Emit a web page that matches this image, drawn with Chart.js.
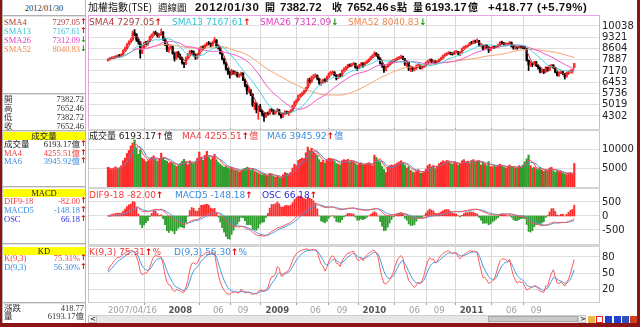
<!DOCTYPE html>
<html>
<head>
<meta charset="utf-8">
<title>加權指數 週線圖</title>
<script src="https://cdn.jsdelivr.net/npm/chart.js@4.4.1/dist/chart.umd.min.js"></script>
<style>
  body { margin: 0; background: #fff; }
  #box { position: relative; width: 640px; height: 327px; overflow: hidden; background: #fff; }
  #box div { white-space: nowrap; }
  canvas { position: absolute; }
</style>
</head>
<body>
<div id="box"></div>
<script>
// ---------- weekly TAIEX, 2007/04/16 .. 2012/01/30 (holiday weeks skipped) ----------
const firstWeek = '2007-04-16';
const lastWeek = '2012-01-30';
const closedWeeks = ['2008-02-04', '2009-01-26', '2010-02-15', '2011-01-31', '2012-01-23'];

const open = [
  7850, 7900, 7990, 8000, 8060, 8090, 8150, 8140, 8200, 8490, 8620, 8880, 9040, 9150, 9600, 9510, 9150, 9020, 8300, 8620, 8980, 8920, 9060, 9360, 9480, 9620, 9540, 9420, 9470, 9650, 9200, 8850, 8520, 8600, 8700, 8290, 7950, 8350,
  8100, 7990, 7700, 7610, 8000, 8230, 8420, 8400, 8200, 8050, 8200, 8570, 8700, 8640, 8820, 8930, 8920, 8800, 9000, 9150, 8690, 8640, 8300, 7950, 7700, 7300, 7100, 6950, 7150, 7020, 7060, 6830, 6900, 7040, 6600, 6250, 5900, 5950, 5700, 5000, 5100, 4700, 4900, 4650, 4450, 4250, 4480, 4430, 4700, 4680, 4440,
  4590, 4700, 4400, 4250, 4450, 4560, 4500, 4560, 4650, 4950, 5200, 5300, 5600, 5650, 5750, 5900, 6100, 6600, 6500, 6800, 6850, 6890, 6700, 6400, 6400, 6600, 6500, 6800, 7000, 7080, 7100, 6900, 6700, 6900, 6830, 7200, 7300, 7400, 7550, 7500, 7600, 7650, 7400, 7350, 7550, 7650, 7530, 7700, 7800, 7900, 8050,
  8188, 8300, 8200, 8000, 7640, 7500, 7200, 7440, 7580, 7700, 7800, 7870, 7900, 8000, 8000, 8080, 7950, 7600, 7700, 7300, 7380, 7300, 7300, 7500, 7550, 7330, 7450, 7500, 7700, 7800, 7900, 7740, 7800, 7650, 7800, 7900, 8000, 8150, 8230, 8300, 8350, 8260, 8250, 8400, 8400, 8300, 8370, 8600, 8700, 8750, 8800,
  8972, 8950, 9060, 9020, 9100, 8800, 8800, 8600, 8800, 8700, 8500, 8650, 8700, 8680, 8750, 8820, 9000, 8950, 8900, 8900, 8900, 9000, 8750, 8650, 8660, 8650, 8750, 8700, 8698.82, 8600, 7850, 7560, 7640, 7600, 7750, 7520, 7400, 7150, 7250, 7100, 7400, 7200, 7515.41, 7560, 7400, 7100, 6900, 7050, 7100, 7000, 6800,
  7080.73, 7120.18, 7181.87, 7382.72
];
const high = [
  7960, 8040, 8080, 8110, 8150, 8200, 8230, 8280, 8520, 8700, 8920, 9100, 9250, 9720, 9810, 9560, 9230, 9050, 8700, 9020, 9060, 9110, 9400, 9530, 9700, 9720, 9600, 9560, 9860, 9680, 9250, 8900, 8700, 8850, 8760, 8330, 8400, 8420,
  8250, 8060, 7720, 8080, 8300, 8480, 8500, 8450, 8260, 8280, 8650, 8760, 8780, 8880, 9010, 9050, 8960, 9080, 9310, 9170, 8800, 8680, 8320, 7980, 7720, 7360, 7180, 7280, 7200, 7180, 7100, 6980, 7100, 7060, 6650, 6300, 6150, 6000, 5720, 5200, 5150, 4950, 5050, 4700, 4500, 4530, 4560, 4760, 4770, 4700, 4620,
  4790, 4720, 4430, 4500, 4640, 4620, 4600, 4700, 4990, 5240, 5370, 5640, 5720, 5820, 5960, 6150, 6700, 6720, 6850, 6960, 7000, 6920, 6720, 6500, 6650, 6680, 6850, 7050, 7150, 7180, 7130, 6950, 6960, 7000, 7250, 7380, 7460, 7600, 7620, 7660, 7720, 7680, 7450, 7600, 7720, 7700, 7750, 7840, 7950, 8100, 8200,
  8400, 8340, 8240, 8020, 7700, 7520, 7480, 7620, 7760, 7850, 7920, 7960, 8050, 8100, 8190, 8120, 7980, 7800, 7720, 7450, 7420, 7380, 7560, 7620, 7570, 7500, 7560, 7740, 7850, 7950, 7940, 7850, 7830, 7840, 7950, 8050, 8180, 8280, 8340, 8400, 8380, 8330, 8450, 8480, 8420, 8400, 8640, 8760, 8800, 8850, 8990,
  9060, 9140, 9140, 9220, 9120, 8900, 8820, 8850, 8850, 8720, 8700, 8760, 8780, 8800, 8880, 9050, 9070, 8990, 8960, 8950, 9050, 9020, 8780, 8720, 8720, 8800, 8780, 8780, 8730, 8620, 7880, 7780, 7700, 7800, 7780, 7560, 7420, 7300, 7280, 7450, 7420, 7550, 7580, 7560, 7420, 7120, 7100, 7200, 7150, 7020, 7100,
  7160, 7250, 7290, 7652.46
];
const low = [
  7800, 7860, 7930, 7950, 8000, 8040, 8060, 8080, 8180, 8440, 8580, 8850, 9000, 9120, 9420, 9050, 8880, 7990, 8280, 8600, 8850, 8820, 9020, 9310, 9450, 9480, 9320, 9280, 9440, 9120, 8780, 8400, 8350, 8560, 8240, 7800, 7920, 8050,
  7900, 7600, 7380, 7580, 7950, 8180, 8300, 8120, 7900, 7950, 8180, 8500, 8560, 8600, 8780, 8850, 8700, 8760, 8980, 8650, 8560, 8250, 7880, 7600, 7230, 6950, 6710, 6900, 6960, 6900, 6780, 6760, 6850, 6550, 6150, 5700, 5800, 5600, 4900, 4700, 4500, 4090, 4580, 4300, 3960, 4200, 4350, 4400, 4580, 4400, 4420,
  4560, 4360, 4160, 4200, 4420, 4450, 4330, 4500, 4620, 4920, 5150, 5280, 5540, 5600, 5700, 5860, 6080, 6400, 6450, 6720, 6780, 6600, 6320, 6250, 6380, 6450, 6480, 6780, 6950, 7000, 6850, 6600, 6680, 6780, 6800, 7150, 7250, 7380, 7450, 7450, 7560, 7350, 7200, 7330, 7500, 7400, 7500, 7660, 7760, 7880, 8020,
  8150, 8100, 7920, 7600, 7400, 7080, 7180, 7400, 7550, 7650, 7750, 7820, 7860, 7920, 7960, 7900, 7520, 7450, 7200, 7130, 7150, 7180, 7280, 7460, 7300, 7280, 7380, 7480, 7680, 7780, 7700, 7700, 7600, 7620, 7760, 7870, 7980, 8120, 8180, 8250, 8200, 8180, 8220, 8330, 8200, 8150, 8350, 8580, 8660, 8700, 8780,
  8900, 8920, 8950, 8980, 8760, 8700, 8500, 8560, 8620, 8340, 8450, 8600, 8620, 8650, 8700, 8800, 8900, 8820, 8800, 8780, 8870, 8700, 8560, 8550, 8560, 8620, 8620, 8600, 8540, 7800, 7200, 7450, 7450, 7550, 7450, 7280, 7050, 7050, 7000, 7080, 7150, 7180, 7480, 7330, 7050, 6850, 6820, 7000, 6940, 6650, 6780,
  6950, 7090, 7020, 7382.72
];
const close = [
  7900, 7990, 8000, 8060, 8090, 8150, 8140, 8200, 8490, 8620, 8880, 9040, 9150, 9600, 9510, 9150, 9020, 8300, 8620, 8980, 8920, 9060, 9360, 9480, 9620, 9540, 9420, 9470, 9650, 9200, 8850, 8520, 8600, 8700, 8290, 7950, 8350, 8100,
  7990, 7700, 7610, 8000, 8230, 8420, 8400, 8200, 8050, 8200, 8570, 8700, 8640, 8820, 8930, 8920, 8800, 9000, 9150, 8690, 8640, 8300, 7950, 7700, 7300, 7100, 6950, 7150, 7020, 7060, 6830, 6900, 7040, 6600, 6250, 5900, 5950, 5700, 5000, 5100, 4700, 4900, 4650, 4450, 4250, 4480, 4430, 4700, 4680, 4440, 4590,
  4700, 4400, 4250, 4450, 4560, 4500, 4560, 4650, 4950, 5200, 5300, 5600, 5650, 5750, 5900, 6100, 6600, 6500, 6800, 6850, 6890, 6700, 6400, 6400, 6600, 6500, 6800, 7000, 7080, 7100, 6900, 6700, 6900, 6830, 7200, 7300, 7400, 7550, 7500, 7600, 7650, 7400, 7350, 7550, 7650, 7530, 7700, 7800, 7900, 8050, 8188,
  8300, 8200, 8000, 7640, 7500, 7200, 7440, 7580, 7700, 7800, 7870, 7900, 8000, 8000, 8080, 7950, 7600, 7700, 7300, 7380, 7300, 7300, 7500, 7550, 7330, 7450, 7500, 7700, 7800, 7900, 7740, 7800, 7650, 7800, 7900, 8000, 8150, 8230, 8300, 8350, 8260, 8250, 8400, 8400, 8300, 8370, 8600, 8700, 8750, 8800, 8972,
  8950, 9060, 9020, 9100, 8800, 8800, 8600, 8800, 8700, 8500, 8650, 8700, 8680, 8750, 8820, 9000, 8950, 8900, 8900, 8900, 9000, 8750, 8650, 8660, 8650, 8750, 8700, 8698.82, 8600, 7850, 7560, 7640, 7600, 7750, 7520, 7400, 7150, 7250, 7100, 7400, 7200, 7515.41, 7560, 7400, 7100, 6900, 7050, 7100, 7000, 6800, 7080.73,
  7120.18, 7181.87, 7233.69, 7652.46
];
// turnover, 億元
const volume = [
  5200, 4700, 4500, 5000, 5300, 4800, 5000, 5600, 6900, 7600, 8800, 9600, 10800, 11600, 12400, 10200, 8600, 9800, 7600, 7200, 6600, 6900, 7400, 7800, 8200, 7300, 6800, 7400, 8900, 7600, 7000, 6800, 6300, 6500, 6200, 5800, 5400, 5600,
  6200, 6800, 7300, 6600, 5800, 6900, 6400, 6100, 6800, 7600, 9200, 7800, 7000, 8400, 9400, 8000, 7200, 7800, 8600, 7200, 6500, 6000, 5600, 5200, 5400, 5000, 4800, 5200, 4600, 4400, 4300, 4000, 4200, 4700, 4900, 5200, 5000, 4400, 4800, 4200, 3900, 3700, 3400, 3200, 3300, 3000, 2900, 3600, 3500, 2800, 2600,
  2800, 2500, 2300, 3200, 3800, 3600, 3300, 3900, 5000, 6000, 5600, 7000, 7300, 7600, 7400, 9000, 10500, 9600, 10200, 9300, 8800, 8300, 7200, 6500, 7000, 6300, 7200, 7600, 7500, 7300, 6800, 6200, 6000, 5800, 6900, 7200, 7000, 7300, 6500, 6800, 6600, 6200, 5800, 6000, 6300, 5700, 5900, 6200, 6400, 6000, 5600,
  8400, 7800, 6900, 6600, 5400, 4600, 3800, 5200, 5600, 5800, 5700, 6000, 6300, 6600, 6900, 6200, 5800, 5000, 5400, 4400, 4000, 3800, 4200, 4600, 3700, 3600, 4000, 4700, 5600, 6000, 5200, 5600, 4800, 5500, 6100, 6500, 6900, 6600, 7000, 6800, 6300, 6000, 6700, 6400, 5800, 6000, 6900, 7200, 6500, 6700, 6300,
  7000, 7200, 6600, 6800, 6900, 5800, 6500, 6000, 5600, 6700, 5400, 5300, 5600, 5200, 5800, 6000, 5500, 5200, 5000, 5300, 5800, 5400, 5200, 5000, 4900, 5600, 5300, 5800, 6600, 7400, 8400, 5600, 5000, 5200, 4800, 4600, 5200, 4400, 4100, 4500, 4200, 5000, 5200, 4300, 3900, 4300, 4000, 3900, 3600, 3400, 3253.48,
  3700, 3800, 3328.87, 6193.17
];

const priceTicks = [4302, 5019, 5736, 6453, 7170, 7887, 8604, 9321, 10038];
const volumeTicks = [5000, 10000];
const macdTicks = [-500, 0, 500];
const kdTicks = [20, 50, 80];

// ---------- week axis ----------
const weeks = [];
for (let t = Date.parse(firstWeek + 'T00:00:00Z'); t <= Date.parse(lastWeek + 'T00:00:00Z'); t += 7 * 864e5) {
  const d = new Date(t).toISOString().slice(0, 10);
  if (!closedWeeks.includes(d)) weeks.push(d);
}
const N = weeks.length;
[open, high, low, close, volume].forEach((a, k) => {
  if (a.length !== N) throw new Error('series ' + k + ' has ' + a.length + ' values, weeks: ' + N);
});

// first week, then every January / June / September once a full year is on screen
const tickText = {}, tickKind = {};
let yearSeen = false;
weeks.forEach((d, i) => {
  const m = +d.slice(5, 7), pm = i ? +weeks[i - 1].slice(5, 7) : 0;
  if (i === 0) { tickText[i] = d.replace(/-/g, '/'); tickKind[i] = 'first'; return; }
  if (m === pm || ![1, 6, 9].includes(m) || i >= N - 8) return;
  if (m === 1) yearSeen = true;
  if (!yearSeen) return;
  tickText[i] = m === 1 ? d.slice(0, 4) : d.slice(5, 7);
  tickKind[i] = m === 1 ? 'year' : 'month';
});
const X_MIN = -0.88, X_MAX = 248.4;
const xTickValues = Object.keys(tickText).map(Number).concat([X_MAX]);

// ---------- indicators ----------
function sma(a, n) {
  return a.map((v, i) => {
    const s = Math.max(0, i - n + 1);
    let t = 0;
    for (let k = s; k <= i; k++) t += a[k];
    return t / (i - s + 1);
  });
}
function ema(a, n) {
  const k = 2 / (n + 1), out = [];
  a.forEach((v, i) => out.push(i ? out[i - 1] + k * (v - out[i - 1]) : v));
  return out;
}
function stoch(n) {
  let K = 50, D = 50;
  const ks = [], ds = [];
  close.forEach((c, i) => {
    const s = Math.max(0, i - n + 1);
    const hh = Math.max(...high.slice(s, i + 1)), ll = Math.min(...low.slice(s, i + 1));
    const rsv = hh === ll ? 50 : (c - ll) / (hh - ll) * 100;
    K = K * 2 / 3 + rsv / 3;
    D = D * 2 / 3 + K / 3;
    ks.push(K); ds.push(D);
  });
  return [ks, ds];
}
const sma4 = sma(close, 4), sma13 = sma(close, 13), sma26 = sma(close, 26), sma52 = sma(close, 52);
const vol4 = sma(volume, 4), vol6 = sma(volume, 6);
// MACD works on the demand index (H + L + 2C) / 4
const demand = close.map((c, i) => (high[i] + low[i] + 2 * c) / 4);
const ema9 = ema(demand, 9), ema18 = ema(demand, 18);
const dif = ema9.map((v, i) => v - ema18[i]);
const macd = ema(dif, 5);
const osc = dif.map((v, i) => v - macd[i]);
const [kLine, dLine] = stoch(9);

// ---------- page helpers ----------
const box = document.getElementById('box');
function el(tag, css, html) {
  const e = document.createElement(tag);
  e.style.cssText = css;
  if (html != null) e.innerHTML = html;
  box.appendChild(e);
  return e;
}
function rect(x, y, w, h, bg, extra) {
  return el('div', `position:absolute;left:${x}px;top:${y}px;width:${w}px;height:${h}px;background:${bg};${extra || ''}`);
}
function text(x, y, html, css, right) {
  const pos = right ? `right:${640 - x}px` : `left:${x}px`;
  return el('div', `position:absolute;${pos};top:${y - 6}px;height:12px;line-height:12px;${css}`, html);
}
const last = N - 1;
const f2 = v => v.toFixed(2);
const UP = '#e00000', DOWN = '#119911';
function arrow(a) {
  const rising = a[last] >= a[last - 1];
  return `<b style="color:${rising ? UP : DOWN}">${rising ? '↑' : '↓'}</b>`;
}

const SANS = '"DejaVu Sans","Noto Sans CJK TC",sans-serif';
const NUM = 'font-family:"Liberation Sans",sans-serif;font-weight:bold;font-size:11.5px;color:#111';
const CJK = 'font-family:"Noto Sans CJK TC",sans-serif;font-weight:bold;font-size:10px;color:#111';
const SERIF = 'font-family:"Liberation Serif","Noto Sans CJK TC",serif;font-size:8.5px;';

// ---------- charts ----------
Chart.defaults.font.family = 'DejaVu Sans';
const RED = '#ff2a2a', GREEN = '#2f9e2f';
const idx = close.map((_, i) => i);
const isUp = i => close[i] >= open[i];
const pts = a => idx.map(i => ({ x: i, y: a[i] }));
const kindOf = c => (c && c.tick) ? tickKind[c.tick.value] : undefined;

function xScale(labels) {
  const real = c => !!(c && c.tick && c.tick.value > 0 && c.tick.value < X_MAX);
  return {
    type: 'linear', min: X_MIN, max: X_MAX,
    afterBuildTicks: s => { s.ticks = xTickValues.map(v => ({ value: v })); },
    afterFit: s => { s.height = labels ? 14 : 0; s.paddingLeft = 0; s.paddingRight = 0; },
    border: { display: false },
    grid: {
      color: c => real(c) ? '#d9d9d9' : 'rgba(0,0,0,0)',
      drawTicks: labels, tickLength: 3,
      tickColor: c => real(c) ? '#999' : 'rgba(0,0,0,0)'
    },
    ticks: {
      display: labels, autoSkip: false, maxRotation: 0, minRotation: 0, align: 'inner', padding: 1,
      callback: v => tickText[v] || '',
      color: c => kindOf(c) === 'year' ? '#555' : '#a0a0a0',
      font: c => ({ family: 'DejaVu Sans', size: 8.5, weight: kindOf(c) === 'year' ? 'bold' : 'normal' })
    }
  };
}
function yScale(min, max, ticks) {
  return {
    type: 'linear', position: 'right', min, max,
    afterBuildTicks: s => { s.ticks = ticks.map(v => ({ value: v })); },
    afterFit: s => { s.width = 41; s.paddingTop = 0; s.paddingBottom = 0; },
    border: { display: false },
    grid: { color: '#dedede', drawTicks: false },
    ticks: { autoSkip: false, padding: 3, color: '#222', font: { size: 10 }, callback: v => String(v) }
  };
}
function panel(top, bottom, scales, datasets, withAxis) {
  const padTop = 3, padBottom = withAxis ? 0 : 3, axisH = withAxis ? 14 : 0;
  const cv = el('canvas', `left:86px;top:${top - padTop}px`);
  cv.width = 554;
  cv.height = bottom - top + padTop + padBottom + axisH;
  return new Chart(cv, {
    type: 'bar',
    data: { datasets },
    options: {
      animation: false, responsive: false, events: [],
      layout: { padding: { left: 2, right: 0, top: padTop, bottom: padBottom } },
      plugins: { legend: { display: false }, tooltip: { enabled: false } },
      scales: Object.assign({ x: xScale(withAxis) }, scales)
    }
  });
}
const line = (a, color, axis) => ({
  type: 'line', data: pts(a), borderColor: color, borderWidth: 1, pointRadius: 0,
  tension: 0, order: 0, yAxisID: axis || 'y'
});
const candleColors = idx.map(i => isUp(i) ? RED : '#000');

// price + moving averages
panel(16, 128, { y: yScale(3537.2, 10675.3, priceTicks) }, [
  line(sma4, '#b83030'), line(sma13, '#3fd3de'), line(sma26, '#ee55cc'), line(sma52, '#f5a06e'),
  { data: idx.map(i => ({ x: i, y: [open[i], close[i]] })), backgroundColor: candleColors, barThickness: 1.6, grouped: false, order: 1 },
  { data: idx.map(i => ({ x: i, y: [low[i], high[i]] })), backgroundColor: candleColors, barThickness: 1, grouped: false, order: 2 }
]);

// turnover
panel(131, 187, { y: yScale(0, 14737, volumeTicks) }, [
  line(vol4, '#ff4545'), line(vol6, '#4a90d8'),
  { data: pts(volume), backgroundColor: idx.map(i => isUp(i) ? RED : GREEN), barThickness: 1.5, grouped: false, order: 1 }
]);

// MACD, histogram on its own hidden scale
const oscMax = Math.max(...osc.map(Math.abs));
panel(189, 244, {
  y: yScale(-1000, 964, macdTicks),
  yOsc: { type: 'linear', display: false, min: -oscMax * 28 / 23, max: oscMax * 27 / 23 }
}, [
  line(dif, '#ff5555'), line(macd, '#4a9ae0'),
  { data: pts(osc), yAxisID: 'yOsc', backgroundColor: osc.map(v => v >= 0 ? RED : GREEN), barThickness: 1.2, grouped: false, order: 1 }
]);

// KD
panel(247, 302, { y: yScale(-4.375, 98.75, kdTicks) }, [
  line(kLine, '#ff5a5a'), line(dLine, '#4a9ae0')
], true);

// ---------- frames ----------
rect(88, 15, 510, 113, 'transparent', 'border:1px solid #e6a6e6');
rect(88, 129, 512, 2, '#d4d4d4');
rect(88, 187, 512, 2, '#d4d4d4');
rect(88, 244, 512, 3, '#d4d4d4');
rect(88, 302, 512, 1, '#cfcfcf');
[[131, 56], [189, 55], [247, 55]].forEach(([y, h]) => {
  rect(88, y, 1, h, '#c8c8c8');
  rect(599, y, 1, h, '#c8c8c8');
});

// ---------- title row ----------
const chg = close[last] - close[last - 1];
const sign = chg >= 0 ? '+' : '';
text(88, 7, '加權指數(TSE)', 'font-family:"Noto Sans CJK TC",sans-serif;font-size:10px;color:#111');
text(158, 7, '週線圖', 'font-family:"Noto Sans CJK TC",sans-serif;font-size:9.5px;color:#111');
text(195, 7, weeks[last].replace(/-/g, '/'), NUM + ';letter-spacing:0.7px');
text(265, 7, '開', CJK);
text(280, 7, f2(open[last]), NUM);
text(332, 7, '收', CJK);
text(347, 7, f2(close[last]), NUM);
text(390, 7, 's', NUM);
text(397, 7, '點', CJK);
text(413, 7, '量', CJK);
text(425, 7, f2(volume[last]), NUM);
text(468, 7, '億', CJK);
text(488, 7, sign + f2(chg), NUM + ';letter-spacing:0.5px');
text(537, 7, `(${sign}${(chg / close[last - 1] * 100).toFixed(2)}%)`, NUM + ';letter-spacing:0.4px');

// ---------- panel legends ----------
const LEG = `font-family:${SANS};font-size:9px;`;
text(89, 21.5, `SMA4 ${f2(sma4[last])}${arrow(sma4)}`, LEG + 'color:#b03c3c');
text(172, 21.5, `SMA13 ${f2(sma13[last])}${arrow(sma13)}`, LEG + 'color:#34c4d4');
text(260, 21.5, `SMA26 ${f2(sma26[last])}${arrow(sma26)}`, LEG + 'color:#e040c0');
text(348, 21.5, `SMA52 ${f2(sma52[last])}${arrow(sma52)}`, LEG + 'color:#f08850');
text(89, 136, `成交量 ${f2(volume[last])}${arrow(volume)}億`, LEG + 'color:#222');
text(182, 136, `MA4 ${f2(vol4[last])}${arrow(vol4)}億`, LEG + 'color:#f03c3c');
text(267, 136, `MA6 ${f2(vol6[last])}${arrow(vol6)}億`, LEG + 'color:#3c8cdc');
text(89, 194.5, `DIF9-18 ${f2(dif[last])}${arrow(dif)}`, LEG + 'color:#f03c3c');
text(175, 194.5, `MACD5 ${f2(macd[last])}${arrow(macd)}`, LEG + 'color:#3c8cdc');
text(262, 194.5, `OSC ${f2(osc[last])}${arrow(osc)}`, LEG + 'color:#2a2ae0');
text(89, 251.5, `K(9,3) ${f2(kLine[last])}${arrow(kLine)}%`, LEG + 'color:#f03c3c');
text(174, 251.5, `D(9,3) ${f2(dLine[last])}${arrow(dLine)}%`, LEG + 'color:#3c8cdc');

// ---------- side panel ----------
rect(2, 0, 84, 323, '#fff', 'border-left:1px solid #b8b8b8;border-right:1px solid #b8b8b8;box-sizing:border-box');
[15, 93, 130, 186, 243, 302].forEach(y => { rect(3, y, 82, 1, '#b0b0b0'); rect(3, y + 1, 82, 1, '#e4e4e4'); });
text(44, 7.5, weeks[last].replace(/-/g, '/'), SERIF + 'color:#333;width:80px;text-align:center;transform:translateX(-50%)');
const sideRow = (y, label, value, color, arr, labelColor) => {
  text(4, y, label, SERIF + `color:${labelColor || color}`);
  text(arr ? 80 : 84, y, value, SERIF + `color:${color}`, true);
  if (arr) text(80, y, arrow(arr), 'font-family:"DejaVu Sans";font-size:8px');
};
sideRow(21.5, 'SMA4', f2(sma4[last]), '#b03c3c', sma4);
sideRow(30.5, 'SMA13', f2(sma13[last]), '#34c4d4', sma13);
sideRow(39.5, 'SMA26', f2(sma26[last]), '#e040c0', sma26);
sideRow(48.5, 'SMA52', f2(sma52[last]), '#f08850', sma52);
sideRow(99, '開', f2(open[last]), '#333');
sideRow(108, '高', f2(high[last]), '#333');
sideRow(117, '低', f2(low[last]), '#333');
sideRow(125.5, '收', f2(close[last]), '#333');
const yellow = (y, label) => {
  rect(3, y, 82, 8, '#ffff00');
  text(44, y + 4, label, SERIF + 'color:#222;width:80px;text-align:center;transform:translateX(-50%)');
};
yellow(132, '成交量');
sideRow(144, '成交量', f2(volume[last]) + '億', '#222', volume);
sideRow(152.5, 'MA4', f2(vol4[last]) + '億', '#f03c3c', vol4);
sideRow(161, 'MA6', f2(vol6[last]) + '億', '#3c8cdc', vol6);
yellow(189, 'MACD');
sideRow(201, 'DIF9-18', f2(dif[last]), '#f03c3c', dif);
sideRow(210, 'MACD5', f2(macd[last]), '#3c8cdc', macd);
sideRow(219, 'OSC', f2(osc[last]), '#2a2ae0', osc);
yellow(247, 'KD');
sideRow(258, 'K(9,3)', f2(kLine[last]) + '%', '#f03c3c', kLine);
sideRow(267, 'D(9,3)', f2(dLine[last]) + '%', '#3c8cdc', dLine);
sideRow(307.5, '漲跌', f2(chg), '#333');
sideRow(316, '量', f2(volume[last]) + '億', '#333');

// ---------- scroll bar and tool icons ----------
rect(88, 315, 497, 8, '#e6e6e6', 'border-top:1px solid #cfcfcf;box-sizing:border-box');
rect(88, 315, 9, 8, '#f2f2f2', 'border:1px solid #c4c4c4;box-sizing:border-box');
text(90, 319, '&lt;', 'font-family:"DejaVu Sans";font-size:7px;font-weight:bold;color:#333');
rect(488, 316, 90, 6, '#cacaca', 'border:1px solid #a8a8a8;box-sizing:border-box');
rect(578, 315, 8, 8, '#f2f2f2', 'border:1px solid #c4c4c4;box-sizing:border-box');
text(580, 319, '&gt;', 'font-family:"DejaVu Sans";font-size:7px;font-weight:bold;color:#333');
[['#e8b840', 588], ['#ffffff', 596], ['#2040d0', 605], ['#2040d0', 614], ['#3050c0', 622], ['#d04020', 630]].forEach(([c, x], k) => {
  rect(x, 316, 7, 7, c, k === 1 ? 'border:1px solid #e02020;box-sizing:border-box' : '');
});

// ---------- outer border ----------
rect(0, 0, 2, 327, '#8b1414');
rect(637, 0, 3, 327, '#8b1414');
rect(0, 323, 640, 4, '#8b1414');
</script>
</body>
</html>
